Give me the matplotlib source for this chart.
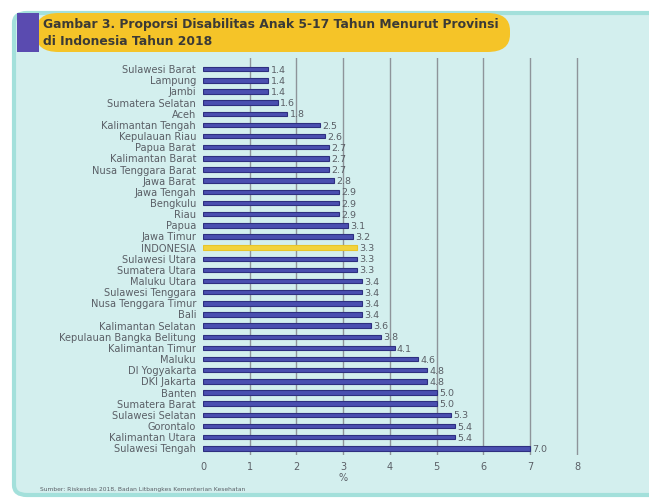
import matplotlib
matplotlib.use("Agg")
import matplotlib.pyplot as plt
from matplotlib.patches import FancyBboxPatch, Rectangle

# -- data
provinsi = ["Sulawesi Barat", "Lampung", "Jambi", "Sumatera Selatan", "Aceh",
            "Kalimantan Tengah", "Kepulauan Riau", "Papua Barat", "Kalimantan Barat",
            "Nusa Tenggara Barat", "Jawa Barat", "Jawa Tengah", "Bengkulu", "Riau",
            "Papua", "Jawa Timur", "INDONESIA", "Sulawesi Utara", "Sumatera Utara",
            "Maluku Utara", "Sulawesi Tenggara", "Nusa Tenggara Timur", "Bali",
            "Kalimantan Selatan", "Kepulauan Bangka Belitung", "Kalimantan Timur",
            "Maluku", "DI Yogyakarta", "DKI Jakarta", "Banten", "Sumatera Barat",
            "Sulawesi Selatan", "Gorontalo", "Kalimantan Utara", "Sulawesi Tengah"]
nilai = [1.4, 1.4, 1.4, 1.6, 1.8, 2.5, 2.6, 2.7, 2.7, 2.7, 2.8, 2.9, 2.9, 2.9,
         3.1, 3.2, 3.3, 3.3, 3.3, 3.4, 3.4, 3.4, 3.4, 3.6, 3.8, 4.1, 4.6, 4.8,
         4.8, 5.0, 5.0, 5.3, 5.4, 5.4, 7.0]
xticks = [0, 1, 2, 3, 4, 5, 6, 7, 8]

judul = "Gambar 3. Proporsi Disabilitas Anak 5-17 Tahun Menurut Provinsi\ndi Indonesia Tahun 2018"
sumber = "Sumber: Riskesdas 2018, Badan Litbangkes Kementerian Kesehatan"

bg = "#d3efee"
txt = "#5a5f66"

fig = plt.figure(figsize=(6.49, 5.00), dpi=100)
fig.patch.set_facecolor("white")

# -- panel background (runs off the right edge)
panel = FancyBboxPatch((14/649, 5/500), 660/649, 482/500,
                       boxstyle="round,pad=0,rounding_size=0.02",
                       transform=fig.transFigure, facecolor=bg,
                       edgecolor="#a3e0db", linewidth=3, zorder=-3)
fig.patches.append(panel)

# -- title box
tbox = FancyBboxPatch((36/649, 448/500), 474/649, 39/500,
                      boxstyle="round,pad=0,rounding_size=0.035",
                      transform=fig.transFigure, facecolor="#f5c428",
                      edgecolor="none", zorder=-2)
fig.patches.append(tbox)
fig.patches.append(Rectangle((17/649, 448/500), 22/649, 39/500,
                             transform=fig.transFigure, facecolor="#5a4bb0",
                             edgecolor="none", zorder=-1))
fig.text(43/649, 467/500, judul, fontsize=8.9, color="#3b3a36",
         fontweight="bold", va="center", ha="left", linespacing=1.4)

# -- chart
ax = fig.add_axes([203/649, 45/500, 377/649, 397/500])
ax.set_facecolor("none")
n = len(provinsi)
ypos = list(range(n))
warna = ["#f2d33c" if p == "INDONESIA" else "#4a4fb0" for p in provinsi]
tepi = ["#e8c52a" if p == "INDONESIA" else "#2e2f80" for p in provinsi]
ax.barh(ypos, nilai, height=0.4, color=warna, edgecolor=tepi, linewidth=0.8, zorder=3)
for y, v in zip(ypos, nilai):
    ax.text(v + 0.05, y + 0.1, "%.1f" % v, fontsize=6.8, color=txt,
            va="center", ha="left", zorder=4)

ax.set_xlim(0, 8.065)
ax.set_ylim(34.6, -1.0)
ax.set_yticks(ypos)
ax.set_yticklabels(provinsi, fontsize=7.1, color=txt)
ax.set_xticks(xticks)
ax.set_xticklabels([str(t) for t in xticks], fontsize=7, color=txt)
ax.tick_params(length=0, pad=5)
for t in xticks[1:]:
    ax.axvline(t, color="#8e949a", linewidth=1, zorder=1)
for s in ax.spines.values():
    s.set_visible(False)
ax.set_xlabel("%", fontsize=7, color=txt, labelpad=1)
ax.xaxis.set_label_coords(3/8.065, -0.045)

fig.text(40/649, 10/500, sumber, fontsize=4.3, color=txt, ha="left", va="center")

fig.savefig("out.png", dpi=100, facecolor="white")
